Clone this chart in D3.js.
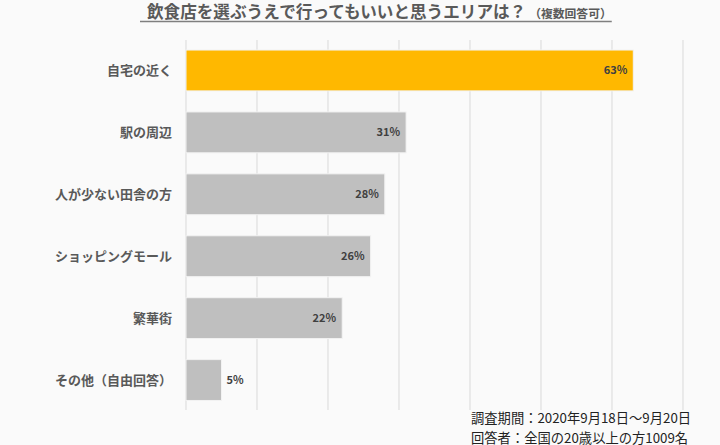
<!DOCTYPE html>
<html><head><meta charset="utf-8">
<script src="https://cdn.jsdelivr.net/npm/d3@7"></script>
<style>html,body{margin:0;padding:0;background:#fafafa;}svg{display:block;}</style>
</head><body>
<svg id="c" width="720" height="445"></svg>
<script>
const categories = ["自宅の近く","駅の周辺","人が少ない田舎の方","ショッピングモール","繁華街","その他（自由回答）"];
const values = [63,31,28,26,22,5];
const xTicks = [0,10,20,30,40,50,60,70];
const titleText = "飲食店を選ぶうえで行ってもいいと思うエリアは？";
const subTitleText = "（複数回答可）";
const footerLines = ["調査期間：2020年9月18日～9月20日","回答者：全国の20歳以上の方1009名"];

const font = "'Noto Sans CJK JP','Noto Sans',sans-serif";
const svg = d3.select("#c");
svg.append("rect").attr("width",720).attr("height",445).attr("fill","#fafafa");

const x = d3.scaleLinear().domain([0,70]).range([186,683]);
const y = d3.scaleBand().domain(categories).range([39.5,411]).paddingInner(0.34).paddingOuter(0.17);

// gridlines
svg.append("g").selectAll("line").data(xTicks).join("line")
  .attr("x1",d=>x(d)).attr("x2",d=>x(d)).attr("y1",40).attr("y2",410)
  .attr("stroke","#d9d9d9").attr("stroke-width",1);

// bars
svg.append("g").selectAll("rect").data(values).join("rect")
  .attr("x",x(0)).attr("y",(d,i)=>y(categories[i]))
  .attr("width",d=>x(d)-x(0)).attr("height",y.bandwidth())
  .attr("fill",(d,i)=>i===0?"#ffb800":"#bfbfbf")
  .attr("stroke","#f2f2f2").attr("stroke-width",1);

// value labels
svg.append("g").selectAll("text").data(values).join("text")
  .attr("x",d=> d<10 ? x(d)+5 : x(d)-6)
  .attr("y",(d,i)=>y(categories[i])+y.bandwidth()/2)
  .attr("dy","0.36em")
  .attr("text-anchor",d=>d<10?"start":"end")
  .attr("font-family",font).attr("font-size",11).attr("font-weight","bold")
  .attr("fill","#404040")
  .text(d=>d+"%");

// category labels
svg.append("g").selectAll("text").data(categories).join("text")
  .attr("x",172).attr("y",d=>y(d)+y.bandwidth()/2).attr("dy","0.36em")
  .attr("text-anchor","end")
  .attr("font-family",font).attr("font-size",13).attr("font-weight","bold")
  .attr("fill","#595959").text(d=>d);

// title
const t = svg.append("text").attr("x",147).attr("y",18)
  .attr("font-family",font).attr("fill","#595959");
t.append("tspan").attr("font-size",16.6).attr("font-weight","bold").text(titleText);
t.append("tspan").attr("font-size",11.8).attr("font-weight","bold").attr("dx",3).text(subTitleText);
const bb = t.node().getBBox();
svg.append("line").attr("x1",140).attr("x2",bb.x+bb.width).attr("y1",21.5).attr("y2",21.5)
  .attr("stroke","#7f7f7f").attr("stroke-width",1.5);

// footer
svg.append("g").selectAll("text").data(footerLines).join("text")
  .attr("x",471).attr("y",(d,i)=>423+i*19.5)
  .attr("font-family",font).attr("font-size",13.3).attr("fill","#222")
  .text(d=>d);
</script>
</body></html>
